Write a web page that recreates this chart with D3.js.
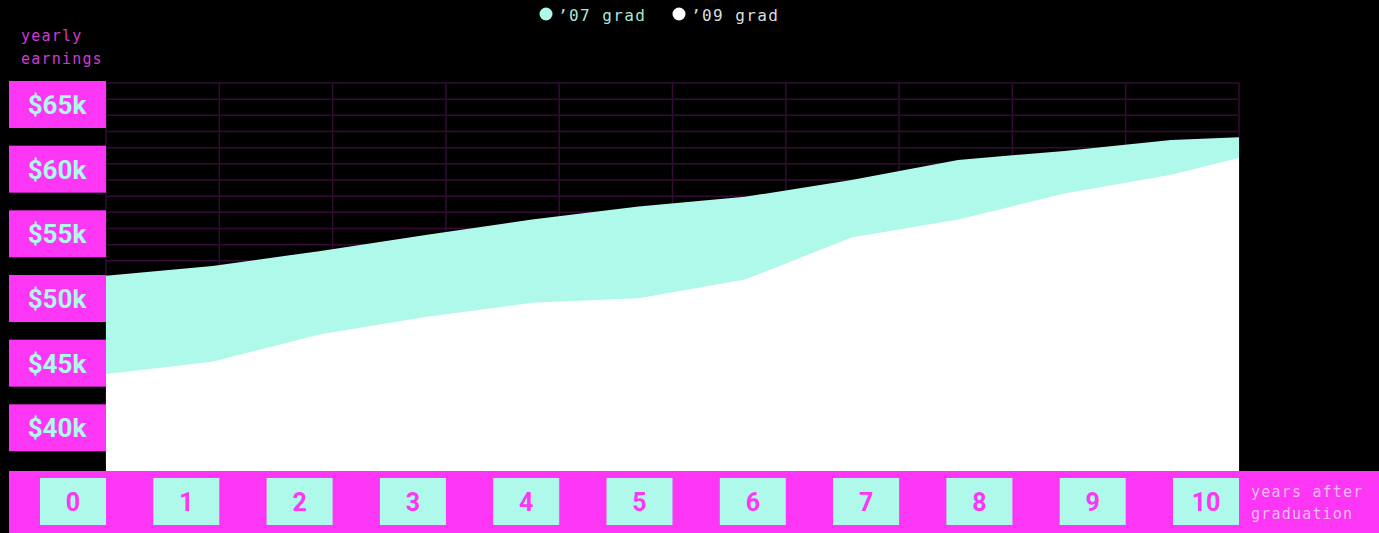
<!DOCTYPE html>
<html>
<head>
<meta charset="utf-8">
<script src="https://cdn.jsdelivr.net/npm/d3@7"></script>
<style>
  html, body { margin: 0; padding: 0; background: #000; }
  svg { display: block; }
</style>
</head>
<body>
<svg id="chart" width="1379" height="533"></svg>
<script>
// Years after graduation at which earnings were sampled
const years07 = [0, 0.94, 1.88, 2.82, 3.76, 4.70, 5.64, 6.58, 7.52, 8.46, 9.40, 10];
const earnings07 = [50.1, 50.85, 52.0, 53.25, 54.45, 55.45, 56.2, 57.5, 59.05, 59.75, 60.6, 60.8];
const years09 = [0, 0.94, 1.88, 2.82, 3.76, 4.70, 5.64, 6.58, 7.52, 8.46, 9.40, 10];
const earnings09 = [42.5, 43.45, 45.55, 46.9, 48.0, 48.35, 49.8, 53.05, 54.45, 56.45, 57.9, 59.2];

const xTicks = [0, 1, 2, 3, 4, 5, 6, 7, 8, 9, 10];
const yTicks = [65, 60, 55, 50, 45, 40];
const seriesNames = ["\u201907 grad", "\u201909 grad"];

const MAGENTA = "#fd35f5";
const CYAN = "#aff9eb";
const GRID = "#330c34";

const svg = d3.select("#chart");
const W = 1379, H = 533;
const plotL = 106, plotR = 1239, plotT = 83, plotB = 471;

const x = d3.scaleLinear().domain([0, 10]).range([plotL, plotR]);
const y = d3.scaleLinear().domain([35, 65]).range([plotB, plotT]);

// grid
const grid = svg.append("g");
grid.selectAll("line.h").data(d3.range(35, 65.01, 1.25)).join("line")
  .attr("class", "h")
  .attr("x1", plotL).attr("x2", plotR)
  .attr("y1", d => y(d)).attr("y2", d => y(d))
  .attr("stroke", GRID).attr("stroke-width", 1.5);
grid.selectAll("line.v").data(xTicks).join("line")
  .attr("class", "v")
  .attr("x1", d => x(d)).attr("x2", d => x(d))
  .attr("y1", plotT).attr("y2", plotB)
  .attr("stroke", GRID).attr("stroke-width", 1.5);

// areas
const area = d3.area()
  .x(d => x(d[0]))
  .y0(y(35))
  .y1(d => y(d[1]))
  .curve(d3.curveLinear);

svg.append("path")
  .datum(d3.zip(years07, earnings07))
  .attr("d", area)
  .attr("fill", CYAN);
svg.append("path")
  .datum(d3.zip(years09, earnings09))
  .attr("d", area)
  .attr("fill", "#ffffff");

// y axis labels
const yAxis = svg.append("g");
const yl = yAxis.selectAll("g").data(yTicks).join("g")
  .attr("transform", d => `translate(9,${y(d) - 2})`);
yl.append("rect").attr("width", 97).attr("height", 47).attr("fill", MAGENTA);
yl.append("text")
  .attr("x", 48).attr("y", 24)
  .attr("text-anchor", "middle").attr("dominant-baseline", "central")
  .attr("fill", CYAN)
  .style("font-family", "Roboto, 'DejaVu Sans', sans-serif")
  .style("font-weight", 700).style("font-size", "26px")
  .text(d => `$${d}k`);

svg.append("text")
  .attr("x", 21).attr("y", 41)
  .attr("fill", "#d23ad2")
  .style("font-family", "'DejaVu Sans Mono', monospace")
  .style("font-size", "15px").style("letter-spacing", "1.2px")
  .selectAll("tspan").data(["yearly", "earnings"]).join("tspan")
  .attr("x", 21).attr("dy", (d, i) => i ? 23 : 0).text(d => d);

// x axis band
svg.append("rect")
  .attr("x", 9).attr("y", plotB)
  .attr("width", W - 9).attr("height", H - plotB)
  .attr("fill", MAGENTA);

const xl = svg.append("g").selectAll("g").data(xTicks).join("g")
  .attr("transform", d => `translate(${x(d) - 66},478)`);
xl.append("rect").attr("width", 66).attr("height", 47).attr("fill", CYAN);
xl.append("text")
  .attr("x", 33).attr("y", 24)
  .attr("text-anchor", "middle").attr("dominant-baseline", "central")
  .attr("fill", MAGENTA)
  .style("font-family", "Roboto, 'DejaVu Sans', sans-serif")
  .style("font-weight", 700).style("font-size", "25px")
  .text(d => d);

svg.append("text")
  .attr("fill", "#f2bdf8")
  .style("font-family", "'DejaVu Sans Mono', monospace")
  .style("font-size", "15px").style("letter-spacing", "1.2px")
  .selectAll("tspan").data(["years after", "graduation"]).join("tspan")
  .attr("x", 1251).attr("y", (d, i) => 497 + i * 22).text(d => d);

// legend
const legendColors = [CYAN, "#ffffff"];
const legendText = ["#a8e6d9", "#dcdcdc"];
const lg = svg.append("g").selectAll("g").data(seriesNames).join("g")
  .attr("transform", (d, i) => `translate(${546 + i * 133},14)`);
lg.append("circle").attr("r", 6.5).attr("fill", (d, i) => legendColors[i]);
lg.append("text")
  .attr("x", 12).attr("y", 1).attr("dominant-baseline", "central")
  .attr("fill", (d, i) => legendText[i])
  .style("font-family", "'DejaVu Sans Mono', monospace")
  .style("font-size", "16px").style("letter-spacing", "1.4px")
  .text(d => d);
</script>
</body>
</html>
